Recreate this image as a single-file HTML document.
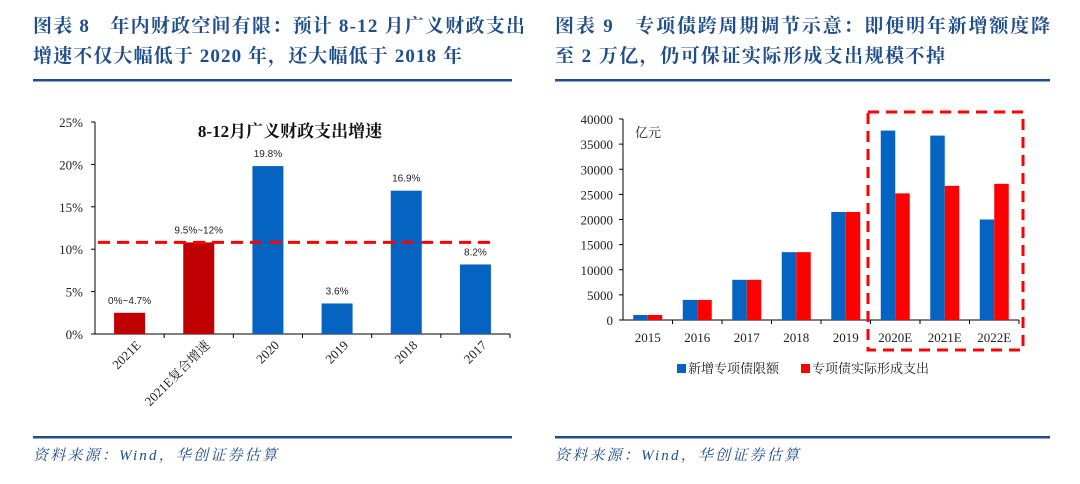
<!DOCTYPE html>
<html><head><meta charset="utf-8"><style>
body{margin:0;background:#fff;width:1080px;height:484px;overflow:hidden}
svg{display:block}
.t{font-family:"Liberation Serif","Noto Serif CJK SC",serif;font-weight:bold;fill:#1f4e8c;font-size:19px}
.f{font-family:"Liberation Serif","Noto Serif CJK SC",serif;font-style:italic;fill:#1f4e8c;font-size:15px}
.ax{font-family:"Liberation Serif","Noto Serif CJK SC",serif;font-size:13px;fill:#222}
.lb{font-family:"Liberation Sans","Noto Sans CJK SC",sans-serif;font-size:10px;fill:#222}
</style></head><body>
<svg id="s" width="1080" height="484" xmlns="http://www.w3.org/2000/svg">
<text class="t" x="33" y="32" textLength="492" lengthAdjust="spacing">图表 8　年内财政空间有限：预计 8-12 月广义财政支出</text>
<text class="t" x="33" y="62" textLength="429" lengthAdjust="spacing">增速不仅大幅低于 2020 年，还大幅低于 2018 年</text>
<rect x="33" y="79" width="479" height="2.5" fill="#1f4e8c"/>
<rect x="33" y="436" width="479" height="2.5" fill="#1f4e8c"/>
<text class="f" x="33" y="460" textLength="244" lengthAdjust="spacing">资料来源：Wind，华创证券估算</text>
<text class="t" x="555" y="32" textLength="495" lengthAdjust="spacing">图表 9　专项债跨周期调节示意：即便明年新增额度降</text>
<text class="t" x="555" y="62" textLength="390" lengthAdjust="spacing">至 2 万亿，仍可保证实际形成支出规模不掉</text>
<rect x="555" y="79" width="495" height="2.5" fill="#1f4e8c"/>
<rect x="555" y="436" width="495" height="2.5" fill="#1f4e8c"/>
<text class="f" x="555" y="460" textLength="244" lengthAdjust="spacing">资料来源：Wind，华创证券估算</text>
<g id="left"></g><g id="right"></g>
</svg>
<script>
const NS="http://www.w3.org/2000/svg";
function mk(p,tag,a,txt){const e=document.createElementNS(NS,tag);for(const k in a)e.setAttribute(k,a[k]);if(txt!=null)e.textContent=txt;p.appendChild(e);return e;}
// Left chart data
const lCats=["2021E","2021E复合增速","2020","2019","2018","2017"];
const lVals=[2.5,10.8,19.8,3.6,16.9,8.2];
const lLabels=["0%~4.7%","9.5%~12%","19.8%","3.6%","16.9%","8.2%"];
const lColors=["#c00000","#c00000","#0563c1","#0563c1","#0563c1","#0563c1"];
const lTicks=[0,5,10,15,20,25];
const lRef=10.8;
// Right chart data
const rCats=["2015","2016","2017","2018","2019","2020E","2021E","2022E"];
const rNew=[1000,4000,8000,13500,21500,37700,36700,20000];
const rActual=[1000,4000,8000,13500,21500,25200,26700,27100];
const rTicks=[0,5000,10000,15000,20000,25000,30000,35000,40000];

const L=document.getElementById('left');
const lx0=95,lx1=510,ly0=334,ly1=122;
const ly=v=>ly0-(v/25)*(ly0-ly1);
const lpitch=(lx1-lx0)/lCats.length;
const lcx=i=>lx0+lpitch*(i+0.5);
let e=mk(L,'text',{x:290,y:137,'text-anchor':'middle','font-family':'"Liberation Serif","Noto Serif CJK SC",serif','font-size':'17','font-weight':'bold',fill:'#111'},'8-12月广义财政支出增速');


lTicks.forEach(t=>{
  const g=mk(L,'text',{x:83,y:ly(t)+5,'text-anchor':'end',class:'ax'},t+'%');
  
  
  mk(L,'line',{x1:lx0-4,x2:lx0,y1:ly(t),y2:ly(t),stroke:'#000'});
});
mk(L,'line',{x1:lx0,x2:lx0,y1:ly1,y2:ly0,stroke:'#000'});
mk(L,'line',{x1:lx0,x2:lx1,y1:ly0,y2:ly0,stroke:'#000'});
lCats.forEach((c,i)=>{
  const x=lcx(i),w=31;
  const b=mk(L,'rect',{x:x-w/2,y:ly(lVals[i]),width:w,height:ly0-ly(lVals[i]),fill:lColors[i]});
  
  
  const lb=mk(L,'text',{x:x,y:ly(lVals[i])-9,'text-anchor':'middle',class:'lb'},lLabels[i]);
  
  
  mk(L,'line',{x1:lx0+lpitch*(i+1),x2:lx0+lpitch*(i+1),y1:ly0,y2:ly0+4,stroke:'#000'});
  const tl=mk(L,'text',{x:x+12,y:ly0+12,'text-anchor':'end',class:'ax',transform:`rotate(-45 ${x+12} ${ly0+12})`},c);
  
  
});
const rl=mk(L,'line',{x1:98,x2:496,y1:ly(lRef),y2:ly(lRef),stroke:'#ff0000','stroke-width':3,'stroke-dasharray':'12 7'});



const R=document.getElementById('right');
const rx0=623,rx1=1019,ry0=320,ry1=119;
const ry=v=>ry0-(v/40000)*(ry0-ry1);
const rp=(rx1-rx0)/rCats.length;
rTicks.forEach(t=>{
  const g=mk(R,'text',{x:613,y:ry(t)+5,'text-anchor':'end',class:'ax'},String(t));
  
  
  mk(R,'line',{x1:rx0-4,x2:rx0,y1:ry(t),y2:ry(t),stroke:'#000'});
});
mk(R,'line',{x1:rx0,x2:rx0,y1:ry1,y2:ry0,stroke:'#000'});
mk(R,'line',{x1:rx0,x2:rx1,y1:ry0,y2:ry0,stroke:'#000'});
e=mk(R,'text',{x:635,y:137,class:'ax'},'亿元');


rCats.forEach((c,i)=>{
  const cx=rx0+rp*(i+0.5),w=14.5;
  const b1=mk(R,'rect',{x:cx-w,y:ry(rNew[i]),width:w,height:ry0-ry(rNew[i]),fill:'#0563c1'});
  
  
  const b2=mk(R,'rect',{x:cx,y:ry(rActual[i]),width:w,height:ry0-ry(rActual[i]),fill:'#ff0000'});
  
  
  mk(R,'line',{x1:rx0+rp*(i+1),x2:rx0+rp*(i+1),y1:ry0,y2:ry0+4,stroke:'#000'});
  const tl=mk(R,'text',{x:cx,y:342,'text-anchor':'middle',class:'ax'},c);
  
  
});
const box=mk(R,'rect',{x:868,y:112,width:155,height:238,fill:'none',stroke:'#ff0000','stroke-width':3,'stroke-dasharray':'11 7'});


const lg1=mk(R,'rect',{x:677,y:364,width:9,height:9,fill:'#0563c1'});


const lt1=mk(R,'text',{x:688,y:373,class:'ax'},'新增专项债限额');


const lg2=mk(R,'rect',{x:801,y:364,width:9,height:9,fill:'#ff0000'});


const lt2=mk(R,'text',{x:812,y:373,class:'ax'},'专项债实际形成支出');


</script>
</body></html>
